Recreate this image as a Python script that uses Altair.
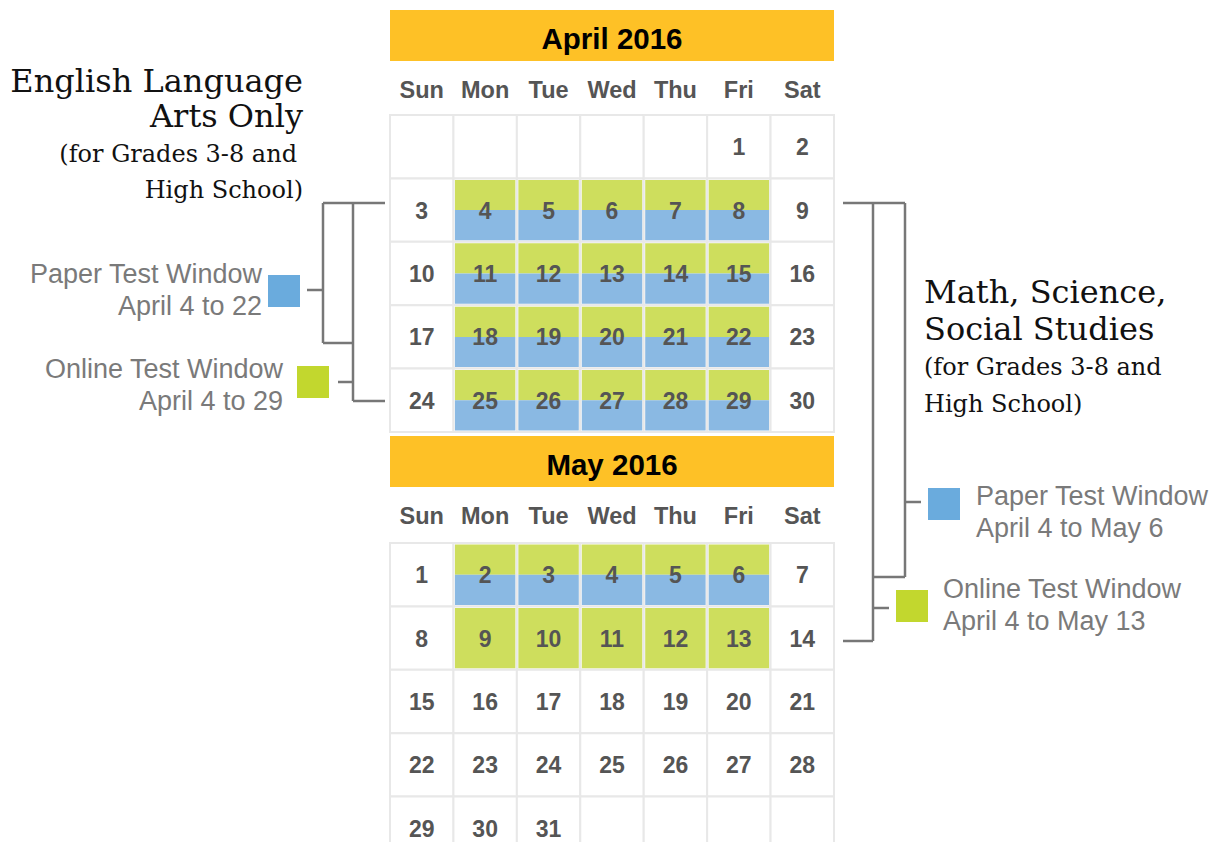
import altair as alt
import pandas as pd
import datetime as dt
import math

# ---------------- data ----------------
months = ["April 2016", "May 2016"]
month_numbers = [4, 5]
year = 2016
weekday_names = ["Sun", "Mon", "Tue", "Wed", "Thu", "Fri", "Sat"]
paper_window = (dt.date(2016, 4, 4), dt.date(2016, 5, 6))
online_window = (dt.date(2016, 4, 4), dt.date(2016, 5, 13))

ela_title = ["English Language", "Arts Only"]
ela_sub = ["(for Grades 3-8 and", "High School)"]
ela_paper = ["Paper Test Window", "April 4 to 22"]
ela_online = ["Online Test Window", "April 4 to 29"]
msss_title = ["Math, Science,", "Social Studies"]
msss_sub = ["(for Grades 3-8 and", "High School)"]
msss_paper = ["Paper Test Window", "April 4 to May 6"]
msss_online = ["Online Test Window", "April 4 to May 13"]

# ---------------- layout / style ----------------
W, H = 1201, 834
GX0, GX1 = 390, 834
CW = (GX1 - GX0) / 7
CH = 63.4
header_top = [10, 436]
header_h = 51
grid_top = [115, 543]
YELLOW = "#FEC126"
CELL_GREEN = "#CEDE5D"
CELL_BLUE = "#8AB9E3"
KEY_BLUE = "#6AABDD"
KEY_GREEN = "#C2D72E"
GRID = "#E8E8E8"
NUM = "#555555"
GRAY = "#7A7A7A"
LINE = "#777777"
SANS = "Liberation Sans"
SERIF = "DejaVu Serif"

xs = alt.Scale(domain=[8, 8 + W], nice=False, zero=False)
ys = alt.Scale(domain=[8, 8 + H], nice=False, zero=False, reverse=True)
X = lambda f="x": alt.X(f"{f}:Q", scale=xs, axis=None)
Y = lambda f="y": alt.Y(f"{f}:Q", scale=ys, axis=None)

# ---------------- build tables ----------------
headers, daynames, cells, fills, nums = [], [], [], [], []
for mi, (mname, mnum) in enumerate(zip(months, month_numbers)):
    ht = header_top[mi]
    gt = grid_top[mi]
    headers.append(dict(x=GX0, x2=GX1, y=ht, y2=ht + header_h, fill=YELLOW))
    daynames += [dict(x=GX0 + (c + 0.5) * CW, y=ht + 88, t=n) for c, n in enumerate(weekday_names)]
    first = dt.date(year, mnum, 1)
    offset = (first.weekday() + 1) % 7
    ndays = ((dt.date(year, mnum + 1, 1) - first).days)
    nrows = math.ceil((offset + ndays) / 7)
    for r in range(nrows):
        for c in range(7):
            cells.append(dict(x=GX0 + c * CW, x2=GX0 + (c + 1) * CW, y=gt + r * CH, y2=gt + (r + 1) * CH))
    for d in range(1, ndays + 1):
        date = dt.date(year, mnum, d)
        pos = offset + d - 1
        r, c = divmod(pos, 7)
        x0, x1 = GX0 + c * CW + 1.5, GX0 + (c + 1) * CW - 1.5
        y0, y1 = gt + r * CH + 1.5, gt + (r + 1) * CH - 1.5
        ym = gt + (r + 0.5) * CH
        weekday = date.weekday() < 5
        online = weekday and online_window[0] <= date <= online_window[1]
        paper = weekday and paper_window[0] <= date <= paper_window[1]
        if online and paper:
            fills.append(dict(x=x0, x2=x1, y=y0, y2=ym, fill=CELL_GREEN))
            fills.append(dict(x=x0, x2=x1, y=ym, y2=y1, fill=CELL_BLUE))
        elif online:
            fills.append(dict(x=x0, x2=x1, y=y0, y2=y1, fill=CELL_GREEN))
        elif paper:
            fills.append(dict(x=x0, x2=x1, y=y0, y2=y1, fill=CELL_BLUE))
        nums.append(dict(x=GX0 + (c + 0.5) * CW, y=gt + (r + 0.5) * CH + 8.5, t=str(d)))

header_text = pd.DataFrame([dict(x=(GX0 + GX1) / 2, y=header_top[i] + 39, t=m) for i, m in enumerate(months)])

# bracket segments (annotation layout)
segments = pd.DataFrame([
    (323, 385, 203, 203), (323, 323, 203, 343), (323, 353, 343, 343),
    (353, 353, 203, 401), (353, 385, 401, 401), (307, 323, 290, 290),
    (338, 353, 382, 382),
    (843, 905, 203, 203), (905, 905, 203, 577), (873, 905, 577, 577),
    (873, 873, 203, 641), (843, 873, 641, 641), (905, 921, 502, 502),
    (873, 889, 608, 608),
], columns=["x", "x2", "y", "y2"])

keys = pd.DataFrame([
    dict(x=268, x2=300, y=275, y2=307, fill=KEY_BLUE),
    dict(x=297, x2=329, y=366, y2=398, fill=KEY_GREEN),
    dict(x=928, x2=960, y=488, y2=520, fill=KEY_BLUE),
    dict(x=896, x2=928, y=590, y2=622, fill=KEY_GREEN),
])


def rects(df, stroke=None):
    kw = dict(stroke=stroke, strokeWidth=2) if stroke else dict(strokeWidth=0)
    return alt.Chart(pd.DataFrame(df)).mark_rect(**kw).encode(
        x=X(), x2="x2:Q", y=Y(), y2="y2:Q",
        fill=alt.Fill("fill:N", scale=None))


def texts(df, align, font, size, weight, color):
    return alt.Chart(pd.DataFrame(df)).mark_text(
        align=align, baseline="alphabetic", font=font, fontSize=size,
        fontWeight=weight, color=color).encode(x=X(), y=Y(), text="t:N")


def lines(xv, ys_, labels):
    return [dict(x=xv, y=yy, t=t) for yy, t in zip(ys_, labels)]


cell_df = pd.DataFrame(cells)
cell_df["fill"] = "#FFFFFF"

layers = [
    rects(headers),
    rects(cell_df, stroke=GRID),
    rects(fills),
    texts(header_text, "center", SANS, 29.5, "bold", "#000000"),
    texts(daynames, "center", SANS, 23.5, "bold", NUM),
    texts(nums, "center", SANS, 23, "bold", NUM),
    alt.Chart(segments).mark_rule(color=LINE, strokeWidth=2.5).encode(
        x=X(), x2="x2:Q", y=Y(), y2="y2:Q"),
    rects(keys),
    texts(lines(303, [92, 127], ela_title), "right", SERIF, 32, "normal", "#111111"),
    texts(lines(297, [162, 198], ela_sub[:1]) + lines(303, [198], ela_sub[1:]), "right", SERIF, 24, "normal", "#111111"),
    texts(lines(924, [303, 340], msss_title), "left", SERIF, 32, "normal", "#111111"),
    texts(lines(924, [375, 412], msss_sub), "left", SERIF, 24, "normal", "#111111"),
    texts(lines(262, [283, 315], ela_paper) + lines(283, [378, 410], ela_online), "right", SANS, 27, "normal", GRAY),
    texts(lines(976, [505, 537], msss_paper) + lines(943, [598, 630], msss_online), "left", SANS, 27, "normal", GRAY),
]

chart = alt.layer(*layers).properties(
    width=W, height=H, padding=0, autosize=alt.AutoSizeParams(type="none"),
    background="#FFFFFF",
).configure_view(strokeWidth=0)

chart.save("out.html", embed_options={"renderer": "svg", "actions": False})
